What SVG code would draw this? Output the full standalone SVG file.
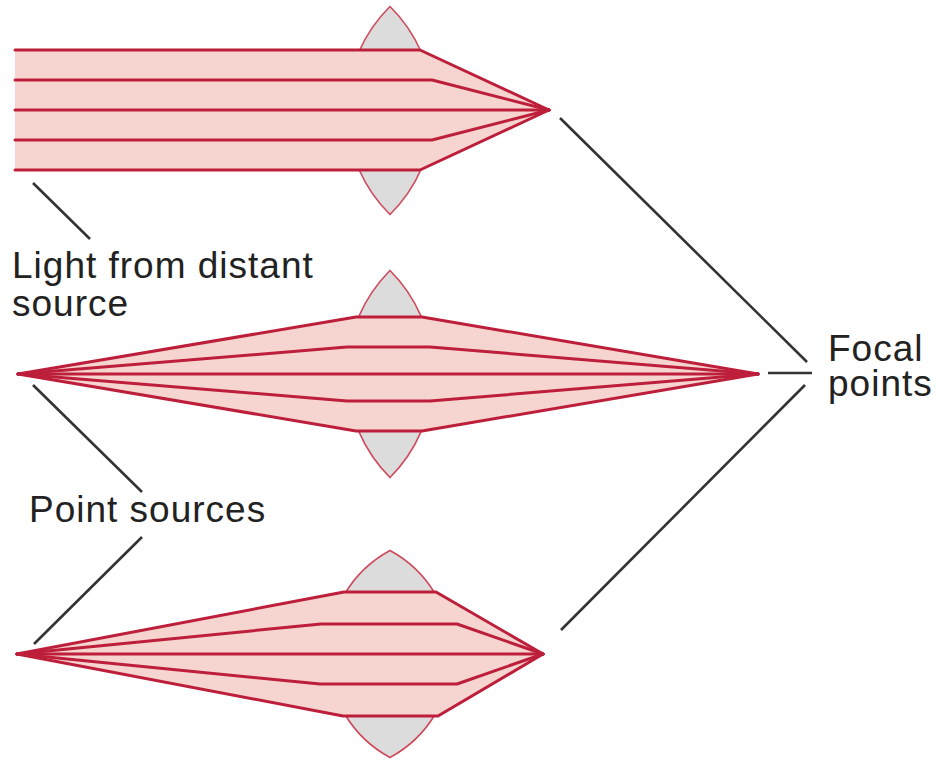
<svg xmlns="http://www.w3.org/2000/svg" width="936" height="763" viewBox="0 0 936 763">
  <style>
    .lens { fill: #dcdcdc; stroke: #d0485c; stroke-width: 1.6; }
    .beam { fill: #f6d4cf; stroke: none; }
    .ray { fill: none; stroke: #bd1f3b; stroke-width: 3; stroke-linejoin: round; stroke-linecap: round; }
    .lead { stroke: #333333; stroke-width: 2.6; fill: none; }
    .label { font-family: "Liberation Sans", Arial, sans-serif; font-size: 37px; letter-spacing: 1px; fill: #222222; }
  </style>

  <!-- Case 1: parallel light from a distant source -->
  <g id="distant-source">
    <path class="lens" d="M390,6.5 A146.2,146.2 0 0 1 390,214.5 A146.2,146.2 0 0 1 390,6.5 Z"/>
    <polygon class="beam" points="15,50 420,50 549,110 420,170 15,170"/>
    <polyline class="ray" points="15,50 420,50 549,110"/>
    <polyline class="ray" points="15,80 432,80 549,110"/>
    <polyline class="ray" points="15,110 549,110"/>
    <polyline class="ray" points="15,140 432,140 549,110"/>
    <polyline class="ray" points="15,170 420,170 549,110"/>
  </g>

  <!-- Case 2: point source, same lens, focus moves back -->
  <g id="point-source-relaxed">
    <path class="lens" d="M390,270.5 A146.2,146.2 0 0 1 390,477.5 A146.2,146.2 0 0 1 390,270.5 Z"/>
    <polygon class="beam" points="18,374 358,317 421,317 758,374 421,431 358,431"/>
    <polyline class="ray" points="18,374 356,317 422,317 758,374"/>
    <polyline class="ray" points="18,374 347,347 430,347 758,374"/>
    <polyline class="ray" points="18,374 758,374"/>
    <polyline class="ray" points="18,374 347,401 430,401 758,374"/>
    <polyline class="ray" points="18,374 356,431 422,431 758,374"/>
  </g>

  <!-- Case 3: point source, more convex lens -->
  <g id="point-source-accommodated">
    <path class="lens" d="M390,550.5 A117.6,117.6 0 0 1 390,757.5 A117.6,117.6 0 0 1 390,550.5 Z"/>
    <polygon class="beam" points="17,654 344,592 436,592 543,654 438,716 343,716"/>
    <polyline class="ray" points="17,654 344,592 436,592 543,654"/>
    <polyline class="ray" points="17,654 321,624 457,624 543,654"/>
    <polyline class="ray" points="17,654 543,654"/>
    <polyline class="ray" points="17,654 320,684 457,684 543,654"/>
    <polyline class="ray" points="17,654 343,716 438,716 543,654"/>
  </g>

  <!-- Leader lines -->
  <g id="connectors">
    <line class="lead" x1="33" y1="183" x2="90" y2="239"/>
    <line class="lead" x1="33" y1="385" x2="142" y2="492"/>
    <line class="lead" x1="142" y1="537" x2="34" y2="644"/>
    <line class="lead" x1="560" y1="118" x2="807" y2="362"/>
    <line class="lead" x1="768" y1="373" x2="812" y2="373"/>
    <line class="lead" x1="805" y1="385" x2="561" y2="630"/>
  </g>

  <!-- Labels -->
  <g id="label-distant">
    <text class="label" x="12" y="278">Light from distant</text>
    <text class="label" x="12" y="316">source</text>
  </g>
  <g id="label-point">
    <text class="label" x="29" y="522">Point sources</text>
  </g>
  <g id="label-focal">
    <text class="label" x="828" y="361">Focal</text>
    <text class="label" x="828" y="396">points</text>
  </g>
</svg>
